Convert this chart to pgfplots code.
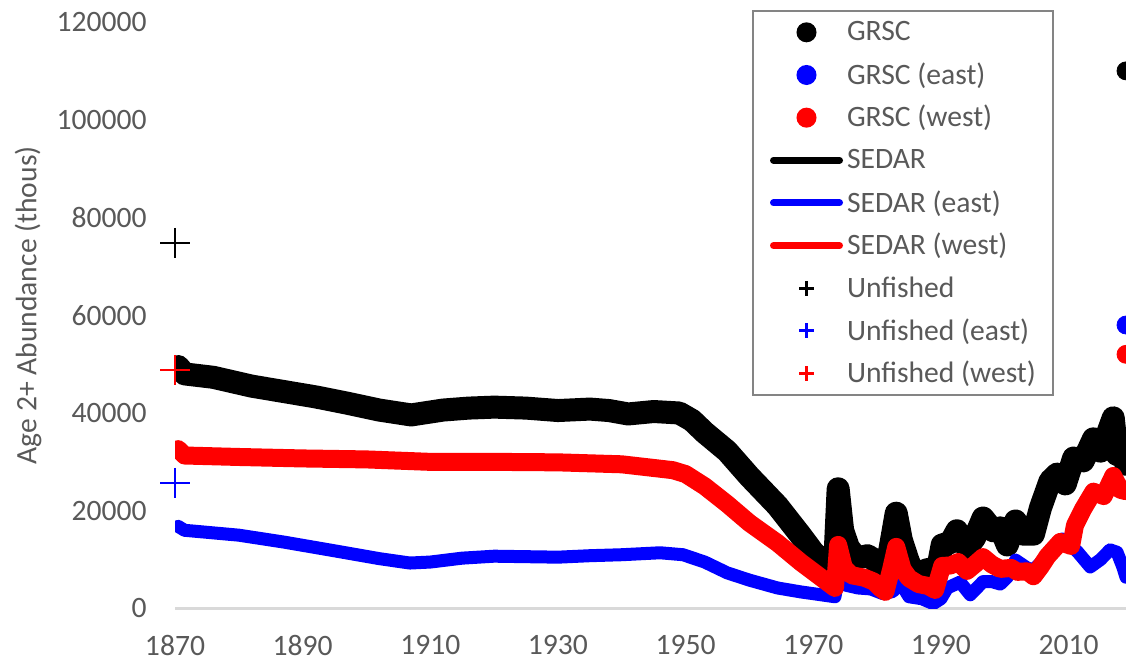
\documentclass[border=0pt]{standalone}
\usepackage{fontspec}
\setmainfont{Carlito}
\usepackage{pgfplots}
\pgfplotsset{compat=1.18}
\definecolor{txtgray}{HTML}{595959}
\definecolor{axgray}{HTML}{D9D9D9}
\definecolor{leggray}{HTML}{848484}
\definecolor{xblue}{RGB}{0,0,255}
\definecolor{xred}{RGB}{255,0,0}
\newcommand\ff{\fontsize{14.8}{17.8}\selectfont}
\pgfplotsset{
  markleg/.style={legend image code/.code={\path[draw=none] (0pt,0pt) -- (33pt,0pt); \draw[##1, draw=none] plot[only marks, mark options={draw=.}] coordinates {(16.5pt,0pt)};}},
  lineleg/.style={legend image code/.code={\draw[##1] (0pt,0pt) -- (33pt,0pt);}},
}
\begin{document}
\begin{tikzpicture}[x=1pt,y=1pt]
\clip (0,0) rectangle (563,331);
\begin{axis}[
  at={(87.5pt,26.75pt)}, anchor=south west,
  width=475.5pt, height=293.25pt, scale only axis,
  xmin=1870, xmax=2019, ymin=0, ymax=120000,
  xtick={1870,1890,...,2010},
  ytick={0,20000,...,120000},
  scaled y ticks=false, scaled x ticks=false,
  /pgf/number format/.cd, fixed, 1000 sep={}, assume math mode=true,
  /pgfplots/.cd,
  axis x line*=bottom, axis y line*=left,
  y axis line style={draw=none},
  x axis line style={draw=axgray, line width=1.25pt},
  major tick length=0pt, tick style={draw=none},
  ticklabel style={font=\ff, text=txtgray},
  yticklabel style={anchor=east, inner sep=0pt, xshift=-14pt},
  xticklabel style={anchor=north, inner sep=0pt, yshift=-13.25pt},
  every axis y label/.style={at={(axis description cs:-0.1546,0.517)}, rotate=90, anchor=center, font=\ff, text=txtgray},
  ylabel={Age 2+ Abundance (thous)},
  legend style={at={(0.60673,1.02046)}, anchor=north west, draw=leggray, line width=1pt, fill=white,
    font=\ff, text=txtgray, inner xsep=8.5pt, inner ysep=0pt, row sep=0pt, column sep=2pt,
    nodes={inner sep=0pt, minimum height=21.33pt}},
  legend cell align=left,
]
% SEDAR (total)
\addplot[black, line width=11.5pt, line join=round, line cap=round, forget plot] coordinates {
(1870.5,49500) (1871.5,48000) (1876,47300) (1882,45500) (1887,44400) (1892,43300) (1897,42000) (1902,40600) (1907,39600) (1912,40600) (1916,41000) (1920,41200) (1925,41000) (1930,40500) (1935,40800) (1938,40500) (1941,39800) (1945,40300) (1949,40000) (1951,38500) (1953,36000) (1956.5,32200) (1960,27000) (1964.4,21000) (1968,15000) (1970,11500) (1973.3,7500) (1973.9,24500) (1974.6,16000) (1975.5,12500) (1976.5,10800) (1977.5,10500) (1978.5,10800) (1979.5,10000) (1980.5,8500) (1981.3,8000) (1982,12000) (1983,19500) (1983.8,14000) (1984.8,10000) (1985.7,7000) (1987,7500) (1988,8000) (1989.1,5500) (1990.2,13000) (1991.5,13500) (1992.5,15900) (1994.1,12400) (1995.3,14500) (1996.6,18500) (1998.2,15900) (1999.3,16500) (2000.4,13000) (2001.7,17900) (2003,15200) (2004.5,15200) (2005.6,20600) (2007.1,26100) (2008.2,27500) (2009.5,25500) (2010.8,30800) (2012.3,30200) (2013.9,34700) (2015,32200) (2015.8,34700) (2017,39000) (2017.6,31500) (2018.3,32500) (2019,29500)};
% SEDAR (east)
\addplot[xblue, line width=6.5pt, line join=round, line cap=round, forget plot] coordinates {
(1870.5,16800) (1871.5,16000) (1880,15000) (1887,13600) (1895,11800) (1902,10200) (1906.8,9300) (1910,9500) (1915,10300) (1920,10700) (1925,10600) (1930,10500) (1935,10800) (1940,11000) (1946,11400) (1949.6,11000) (1953,9500) (1956.5,7300) (1960,5800) (1964.4,4200) (1968,3400) (1973.4,2400) (1973.9,6200) (1975,4800) (1977,4200) (1979,4000) (1981,3000) (1982.5,3500) (1983.6,5400) (1985,2400) (1987,2000) (1988.8,1000) (1990,2000) (1991,4200) (1993,5400) (1994.6,2800) (1996.6,5500) (1998,5500) (1999.3,5000) (2000.4,6400) (2001.7,9900) (2003.5,8300) (2004.5,7900) (2006,9900) (2008,12000) (2009,14200) (2010.2,13000) (2011.4,11600) (2013.4,8500) (2015,10000) (2016.5,12000) (2017.6,11500) (2018.5,8500) (2019,6400)};
% SEDAR (west)
\addplot[xred, line width=9pt, line join=round, line cap=round, forget plot] coordinates {
(1870.5,32600) (1871.5,31300) (1880,31000) (1890,30700) (1900,30500) (1910,30000) (1920,30000) (1930,29900) (1940,29500) (1948,28300) (1950,27500) (1953,25000) (1956.5,21400) (1960,17500) (1964.4,13400) (1968,9500) (1973.4,4200) (1973.9,13000) (1974.8,8300) (1976,6800) (1978,6300) (1979.5,5500) (1980.5,4200) (1981.3,3400) (1982.2,8000) (1983,12600) (1984,8000) (1985,6200) (1986.5,5000) (1988,4600) (1989.1,3800) (1990.2,8700) (1991.5,8800) (1992.7,9500) (1994.1,7700) (1995.3,9000) (1996.6,10500) (1998,9000) (1999.3,8100) (2001,8300) (2002,7500) (2003.5,7600) (2004.5,6600) (2005.6,8500) (2006.7,10700) (2008.7,13600) (2010.4,12800) (2011,17000) (2012.3,20400) (2013.9,23900) (2015.5,23000) (2017,27100) (2018.1,24300) (2019,24000)};
% GRSC
\addplot[only marks, mark=*, mark size=4.5pt, black, forget plot] coordinates {(2019,110000)};
\addplot[only marks, mark=*, mark size=4.5pt, xblue, forget plot] coordinates {(2019,58000)};
\addplot[only marks, mark=*, mark size=4.5pt, xred, forget plot] coordinates {(2019,52000)};
% Unfished
\addplot[only marks, mark=+, mark size=7.5pt, black, mark options={line width=1pt}, forget plot] coordinates {(1870,74800)};
\addplot[only marks, mark=+, mark size=7.5pt, xblue, mark options={line width=1pt}, forget plot] coordinates {(1870,25700)};
\addplot[only marks, mark=+, mark size=7.5pt, xred, mark options={line width=1pt}, forget plot] coordinates {(1870,48800)};
% legend
\addlegendimage{markleg, black, mark=*, mark size=4.5pt}
\addlegendentry{GRSC}
\addlegendimage{markleg, xblue, mark=*, mark size=4.5pt}
\addlegendentry{GRSC (east)}
\addlegendimage{markleg, xred, mark=*, mark size=4.5pt}
\addlegendentry{GRSC (west)}
\addlegendimage{lineleg, black, line width=3.5pt, line cap=round}
\addlegendentry{SEDAR}
\addlegendimage{lineleg, xblue, line width=3.5pt, line cap=round}
\addlegendentry{SEDAR (east)}
\addlegendimage{lineleg, xred, line width=3.5pt, line cap=round}
\addlegendentry{SEDAR (west)}
\addlegendimage{markleg, black, mark=+, mark size=3.75pt, line width=1.5pt}
\addlegendentry{Unfished}
\addlegendimage{markleg, xblue, mark=+, mark size=3.75pt, line width=1.5pt}
\addlegendentry{Unfished (east)}
\addlegendimage{markleg, xred, mark=+, mark size=3.75pt, line width=1.5pt}
\addlegendentry{Unfished (west)}
\end{axis}
\end{tikzpicture}
\end{document}
